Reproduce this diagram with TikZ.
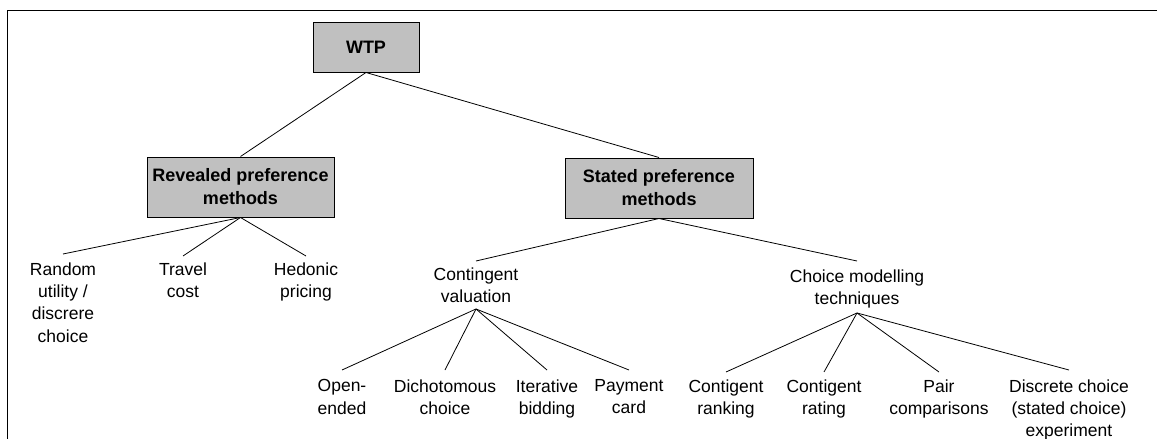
\documentclass[tikz,border=0pt]{standalone}
\usepackage{fontspec}
\setmainfont{Liberation Sans}
\definecolor{boxgray}{RGB}{192,192,192}
\begin{document}
\begin{tikzpicture}[x=1pt,y=-1pt,
  boxnode/.style={draw=black, line width=1pt, fill=boxgray, align=center,
    font=\fontsize{18}{23}\selectfont\bfseries, inner sep=0pt},
  leaf/.style={align=center, font=\fontsize{17.5}{22.3}\selectfont,
    inner xsep=0pt, anchor=north, text depth=0pt},
  link/.style={line width=0.8pt}]
\useasboundingbox (0,0) rectangle (1157,439);
\draw[line width=1pt] (7,439) -- (7,10) -- (1157,10);
% boxes
\node[boxnode, minimum width=106pt, minimum height=50pt] (wtp) at (366,47) {WTP};
\node[boxnode, minimum width=187pt, minimum height=60pt] (rev) at (240.5,187) {Revealed preference\\methods};
\node[boxnode, minimum width=188pt, minimum height=60pt] (sta) at (659,188) {Stated preference\\methods};
% second level
\node[leaf, inner ysep=8.3pt] (rand) at (63,254) {Random\\utility /\\discrere\\choice};
\node[leaf, inner ysep=6.3pt] (trav) at (183,256) {Travel\\cost};
\node[leaf, inner ysep=6.3pt] (hed) at (306,256) {Hedonic\\pricing};
\node[leaf, inner ysep=6.3pt] (cv) at (476,261) {Contingent\\valuation};
\node[leaf, inner ysep=8.3pt] (cm) at (857,261) {Choice modelling\\techniques};
% third level
\node[leaf, inner ysep=9.3pt] (open) at (342,370) {Open-\\ended};
\node[leaf, inner ysep=9.3pt] (dich) at (445,370) {Dichotomous\\choice};
\node[leaf, inner ysep=9.3pt] (iter) at (547,370) {Iterative\\bidding};
\node[leaf, inner ysep=9.3pt] (pay) at (629,370) {Payment\\card};
\node[leaf, inner ysep=7.3pt] (rank) at (726,372) {Contigent\\ranking};
\node[leaf, inner ysep=7.3pt] (rate) at (824,372) {Contigent\\rating};
\node[leaf, inner ysep=7.3pt] (pair) at (939,372) {Pair\\comparisons};
\node[leaf, inner ysep=9.3pt] (disc) at (1069,370) {Discrete choice\\(stated choice)\\experiment};
% connectors
\draw[link] (wtp.south) -- (rev.north);
\draw[link] (wtp.south) -- (sta.north);
\draw[link] (rev.south) -- (rand.north);
\draw[link] (rev.south) -- (trav.north);
\draw[link] (rev.south) -- (hed.north);
\draw[link] (sta.south) -- (cv.north);
\draw[link] (sta.south) -- (cm.north);
\draw[link] (cv.south) -- (open.north);
\draw[link] (cv.south) -- (dich.north);
\draw[link] (cv.south) -- (iter.north);
\draw[link] (cv.south) -- (pay.north);
\draw[link] (cm.south) -- (rank.north);
\draw[link] (cm.south) -- (rate.north);
\draw[link] (cm.south) -- (pair.north);
\draw[link] (cm.south) -- (disc.north);
\end{tikzpicture}
\end{document}
